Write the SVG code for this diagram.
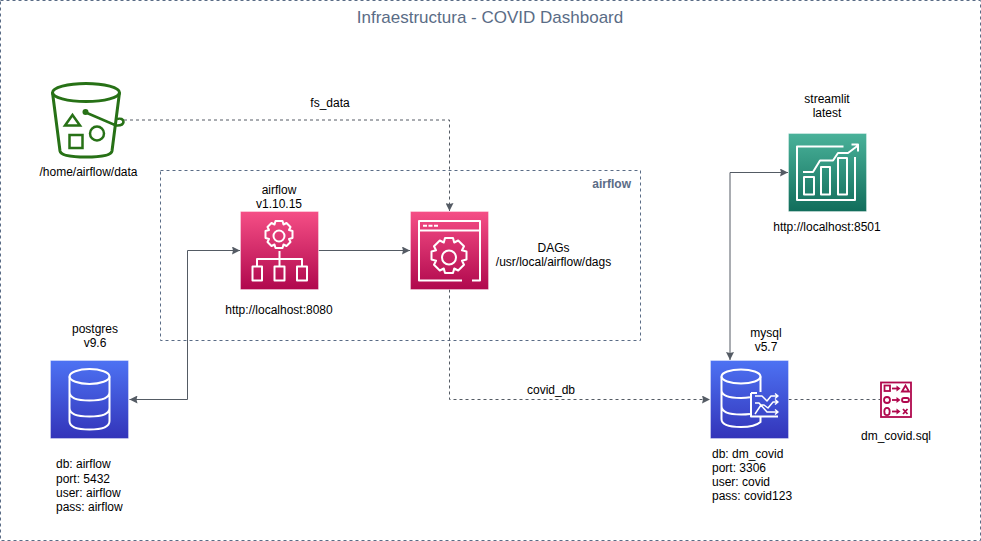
<svg xmlns="http://www.w3.org/2000/svg" width="981" height="541" viewBox="0 0 981 541">
<style>
text{font-family:"Liberation Sans",Arial,sans-serif;font-size:12px;fill:#000;text-anchor:middle}
.c{fill:none;stroke:#545B64;stroke-width:1}
.d{stroke-dasharray:3 3}
.w{fill:none;stroke:#fff;stroke-width:2;stroke-linejoin:round}
.g{fill:none;stroke:#277116;stroke-width:3}
.s{fill:none;stroke:#B0084D;stroke-width:1.800}
.b{stroke:#fff;stroke-opacity:.35;stroke-width:1}
</style>
<defs>
<linearGradient id="pink" x1="0" y1="0" x2="0" y2="1"><stop offset="0" stop-color="#F54F86"/><stop offset="1" stop-color="#B0084D"/></linearGradient>
<linearGradient id="blue" x1="0" y1="0" x2="0" y2="1"><stop offset="0" stop-color="#4D72F3"/><stop offset="1" stop-color="#3334B9"/></linearGradient>
<linearGradient id="green" x1="0" y1="0" x2="0" y2="1"><stop offset="0" stop-color="#4AB29A"/><stop offset="1" stop-color="#116D5B"/></linearGradient>
<marker id="a" markerWidth="9" markerHeight="8" refX="8" refY="4" orient="auto-start-reverse" markerUnits="userSpaceOnUse"><path d="M0 0L8 4L0 8L1 4Z" fill="#545B64"/></marker>
</defs>
<rect width="981" height="541" fill="#fff"/>
<g id="frame">
<rect x="0.5" y="0.5" width="980" height="540" fill="none" stroke="#5A6C86" stroke-dasharray="3 3"/>
<text x="490" y="23" style="font-size:17px;fill:#5A6C86">Infraestructura - COVID Dashboard</text>
</g>
<g id="airflow-group">
<rect x="160.500" y="170.500" width="480" height="170" fill="none" stroke="#5A6C86" stroke-dasharray="3 3"/>
<text x="631" y="188" style="font-weight:bold;fill:#5A6C86;text-anchor:end">airflow</text>
</g>
<g id="connectors">
<path class="c d" d="M124 120H449.500V211" marker-end="url(#a)"/>
<path class="c" d="M129.500 399.500H187.500V250.500H240" marker-start="url(#a)" marker-end="url(#a)"/>
<path class="c" d="M318.500 250.500H410" marker-end="url(#a)"/>
<path class="c d" d="M449.500 289.500V399.500H710" marker-end="url(#a)"/>
<path class="c" d="M730 360V172.500H788" marker-start="url(#a)" marker-end="url(#a)"/>
<path class="c d" d="M788.500 399.500H880"/>
<text x="330" y="107">fs_data</text>
<text x="551" y="394">covid_db</text>
</g>
<g id="s3">
<ellipse cx="86" cy="92.500" rx="33.500" ry="9" class="g"/>
<path class="g" d="M52.500 92.500L60 151Q61 157 86 157Q111 157 112 151L119.500 92.500"/>
<path class="g" d="M72.500 115L80 125.500H65Z" style="stroke-width:2.500"/>
<rect x="69.500" y="135" width="13" height="13" class="g" style="stroke-width:2.500"/>
<circle cx="97" cy="133.500" r="7" class="g" style="stroke-width:2.500"/>
<circle cx="85.500" cy="112" r="3" fill="#277116"/>
<path class="g" style="stroke-width:2.500" d="M87 113L116 125.500Q123 126 123.500 122Q123 117.500 117 119"/>
<text x="88.500" y="176">/home/airflow/data</text>
</g>
<g id="airflow">
<rect x="240.500" y="211.500" width="78" height="78" fill="url(#pink)" class="b"/>
<circle cx="279" cy="236" r="5.500" class="w"/>
<path class="w" d="M275.500 221h7l1 3.500 3-1.500 4 4-1.500 3 3.500 1v7l-3.500 1 1.500 3-4 4-3-1.500-1 3.500h-7l-1-3.500-3 1.500-4-4 1.500-3-3.500-1v-7l3.500-1-1.500-3 4-4 3 1.500z"/>
<path class="w" d="M279.500 251v15M257 266v-7h45v7"/>
<rect x="252.500" y="266.500" width="9.500" height="14" class="w"/>
<rect x="274.500" y="266.500" width="10" height="14" class="w"/>
<rect x="297" y="266.500" width="10" height="14" class="w"/>
<text x="279" y="194">airflow</text>
<text x="279" y="208">v1.10.15</text>
<text x="279" y="314">http://localhost:8080</text>
</g>
<g id="dags">
<rect x="410.500" y="211.500" width="78" height="78" fill="url(#pink)" class="b"/>
<path class="w" d="M472 280.500H480V221H419V280.500H462"/>
<path class="w" d="M419 230.500H480"/>
<path d="M423 225.700h4M428.500 225.700h4M434 225.700h4" stroke="#fff" stroke-width="2" fill="none"/>
<circle cx="449" cy="257.500" r="7" class="w"/>
<path class="w" d="M445 238h8l1.200 4.500 4-2 5.800 5.800-2 4 4.500 1.200v8l-4.500 1.200 2 4-5.800 5.800-4-2-1.200 4.500h-8l-1.200-4.500-4 2-5.800-5.800 2-4-4.500-1.200v-8l4.500-1.200-2-4 5.800-5.800 4 2z"/>
<text x="553.500" y="252">DAGs</text>
<text x="553.500" y="266">/usr/local/airflow/dags</text>
</g>
<g id="postgres">
<rect x="50.500" y="360.500" width="78" height="78" fill="url(#blue)" class="b"/>
<ellipse cx="89.500" cy="376.500" rx="20" ry="7.500" class="w"/>
<path class="w" d="M69.500 376.500V421Q69.500 429.500 89.500 429.500Q109.500 429.500 109.500 421V376.500M69.500 392Q69.500 400.500 89.500 400.500Q109.500 400.500 109.500 392M69.500 408Q69.500 416.500 89.500 416.500Q109.500 416.500 109.500 408"/>
<text x="95" y="333">postgres</text>
<text x="95" y="347">v9.6</text>
<text x="56" y="468" style="text-anchor:start">db: airflow</text>
<text x="56" y="483" style="text-anchor:start">port: 5432</text>
<text x="56" y="497" style="text-anchor:start">user: airflow</text>
<text x="56" y="511" style="text-anchor:start">pass: airflow</text>
</g>
<g id="mysql">
<rect x="710.500" y="360.500" width="78" height="78" fill="url(#blue)" class="b"/>
<ellipse cx="741" cy="376.500" rx="19.500" ry="7" class="w"/>
<path class="w" d="M721.500 376.500V419Q721.500 427 741 427Q755 427 760.500 422V417M721.500 390Q721.500 398 741 398Q746 398 750 397.300M721.500 406Q721.500 414.500 741 414.500Q746 414.500 750 414M760.500 376.500V392"/>
<path class="w" d="M751 393H757M751 393V416.500H778"/>
<path class="w" style="stroke-width:1.500" d="M755 396H762L767 401L771 396H778M755 403H759L767 412H778M755 414L761 405H764L768 408L773 402H778M775 393.500L778 396L775 398.500M775 409.500L778 412L775 414.500M775 399.500L778 402L775 404.500"/>
<text x="766" y="337">mysql</text>
<text x="766" y="351">v5.7</text>
<text x="712" y="458" style="text-anchor:start">db: dm_covid</text>
<text x="712" y="472" style="text-anchor:start">port: 3306</text>
<text x="712" y="486" style="text-anchor:start">user: covid</text>
<text x="712" y="500" style="text-anchor:start">pass: covid123</text>
</g>
<g id="streamlit">
<rect x="788.500" y="133.500" width="78" height="78" fill="url(#green)" class="b"/>
<path class="w" d="M843.500 146.500H797V200H855V157"/>
<rect x="804" y="177" width="10" height="17.500" class="w"/>
<rect x="821" y="167" width="9" height="27.500" class="w"/>
<rect x="838" y="158" width="9" height="36.500" class="w"/>
<path class="w" d="M803 172H813L820 160.500H833L838 153H848L858 145.500M851.500 144.500H858V151.500"/>
<text x="827" y="103">streamlit</text>
<text x="827" y="117">latest</text>
<text x="827" y="231">http://localhost:8501</text>
</g>
<g id="dm_covid">
<rect x="881" y="382.500" width="30" height="34.500" fill="none" stroke="#B0084D" stroke-width="1.800"/>
<rect x="884.500" y="385.500" width="5.500" height="5.500" class="s"/>
<path class="s" d="M892 388.500H898"/><path d="M896.500 385.500L900.500 388.500L896.500 391.500Z" fill="#B0084D"/>
<path class="s" d="M902 391.500L905.500 385.500L909 391.500Z"/>
<circle cx="887" cy="400" r="3" class="s"/>
<path class="s" d="M892 400H898"/><path d="M896.500 397L900.500 400L896.500 403Z" fill="#B0084D"/>
<rect x="902" y="398" width="7" height="4" rx="2" class="s"/>
<ellipse cx="887" cy="411.500" rx="2.700" ry="3.700" class="s"/>
<path class="s" d="M892 411.500H898"/><path d="M896.500 408.500L900.500 411.500L896.500 414.500Z" fill="#B0084D"/>
<path class="s" d="M903 409L907.500 414M907.500 409L903 414"/>
<text x="896" y="440">dm_covid.sql</text>
</g>
</svg>
